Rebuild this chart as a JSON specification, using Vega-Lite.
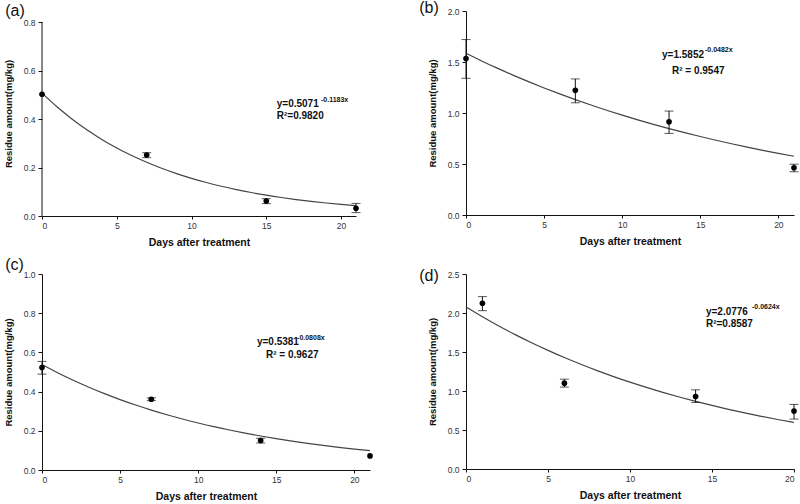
{
  "$schema": "https://vega.github.io/schema/vega-lite/v6.json",
  "background": "white",
  "padding": {"left": 3, "top": 0, "right": 0, "bottom": 0},
  "datasets": {
    "one": [{}],
    "fa": [{"day":0,"fit":0.5071},{"day":1,"fit":0.4505},{"day":2,"fit":0.4003},{"day":3,"fit":0.3556},{"day":4,"fit":0.3159},{"day":5,"fit":0.2807},{"day":6,"fit":0.2494},{"day":7,"fit":0.2215},{"day":8,"fit":0.1968},{"day":9,"fit":0.1749},{"day":10,"fit":0.1554},{"day":11,"fit":0.138},{"day":12,"fit":0.1226},{"day":13,"fit":0.109},{"day":14,"fit":0.0968},{"day":15,"fit":0.086},{"day":16,"fit":0.0764},{"day":17,"fit":0.0679},{"day":18,"fit":0.0603},{"day":19,"fit":0.0536},{"day":20,"fit":0.0476},{"day":21,"fit":0.0423}],
    "fb": [{"day":0,"fit":1.5852},{"day":1,"fit":1.5106},{"day":2,"fit":1.4395},{"day":3,"fit":1.3718},{"day":4,"fit":1.3072},{"day":5,"fit":1.2457},{"day":6,"fit":1.1871},{"day":7,"fit":1.1312},{"day":8,"fit":1.078},{"day":9,"fit":1.0273},{"day":10,"fit":0.9789},{"day":11,"fit":0.9329},{"day":12,"fit":0.889},{"day":13,"fit":0.8471},{"day":14,"fit":0.8073},{"day":15,"fit":0.7693},{"day":16,"fit":0.7331},{"day":17,"fit":0.6986},{"day":18,"fit":0.6657},{"day":19,"fit":0.6344},{"day":20,"fit":0.6045},{"day":21,"fit":0.5761}],
    "fc": [{"day":0,"fit":0.5381},{"day":1,"fit":0.4963},{"day":2,"fit":0.4578},{"day":3,"fit":0.4223},{"day":4,"fit":0.3895},{"day":5,"fit":0.3593},{"day":6,"fit":0.3314},{"day":7,"fit":0.3057},{"day":8,"fit":0.2819},{"day":9,"fit":0.26},{"day":10,"fit":0.2399},{"day":11,"fit":0.2212},{"day":12,"fit":0.2041},{"day":13,"fit":0.1882},{"day":14,"fit":0.1736},{"day":15,"fit":0.1601},{"day":16,"fit":0.1477},{"day":17,"fit":0.1362},{"day":18,"fit":0.1257},{"day":19,"fit":0.1159},{"day":20,"fit":0.1069},{"day":21,"fit":0.0986}],
    "fd": [{"day":0,"fit":2.0776},{"day":1,"fit":1.9519},{"day":2,"fit":1.8339},{"day":3,"fit":1.7229},{"day":4,"fit":1.6187},{"day":5,"fit":1.5208},{"day":6,"fit":1.4288},{"day":7,"fit":1.3424},{"day":8,"fit":1.2611},{"day":9,"fit":1.1849},{"day":10,"fit":1.1132},{"day":11,"fit":1.0458},{"day":12,"fit":0.9826},{"day":13,"fit":0.9231},{"day":14,"fit":0.8673},{"day":15,"fit":0.8148},{"day":16,"fit":0.7655},{"day":17,"fit":0.7192},{"day":18,"fit":0.6757},{"day":19,"fit":0.6348},{"day":20,"fit":0.5964}],
    "pa": [{"day":0,"mean":0.502,"lo":null,"hi":null},{"day":7,"mean":0.2515,"lo":0.2405,"hi":0.261},{"day":15,"mean":0.062,"lo":0.051,"hi":0.0715},{"day":21,"mean":0.032,"lo":0.014,"hi":0.052}],
    "pb": [{"day":0,"mean":1.534,"lo":1.34,"hi":1.72},{"day":7,"mean":1.222,"lo":1.1,"hi":1.334},{"day":13,"mean":0.913,"lo":0.8,"hi":1.019},{"day":21,"mean":0.463,"lo":0.424,"hi":0.498}],
    "pc": [{"day":0,"mean":0.523,"lo":0.489,"hi":0.554},{"day":7,"mean":0.361,"lo":0.354,"hi":0.368},{"day":14,"mean":0.15,"lo":0.138,"hi":0.162},{"day":21,"mean":0.072,"lo":null,"hi":null}],
    "pd": [{"day":1,"mean":2.125,"lo":2.03,"hi":2.21},{"day":6,"mean":1.1,"lo":1.05,"hi":1.152},{"day":14,"mean":0.93,"lo":0.853,"hi":1.015},{"day":20,"mean":0.742,"lo":0.64,"hi":0.828}]
  },
  "config": {
    "view": {"stroke": null},
    "font": "Liberation Sans",
    "axis": {
      "grid": false,
      "domainColor": "#111",
      "tickColor": "#111",
      "labelColor": "#333",
      "labelFont": "Liberation Sans",
      "labelFontSize": 8.5,
      "labelPadding": 3,
      "tickSize": 4,
      "titleFont": "Liberation Sans",
      "titleColor": "#111",
      "titleFontWeight": "bold"
    },
    "axisX": {"titleFontSize": 10.5, "titlePadding": 8, "tickSize": 3, "labelPadding": 2},
    "axisY": {"titleFontSize": 9.5, "titlePadding": 10, "format": ".1f"},
    "text": {"align": "left", "baseline": "middle", "fontWeight": "bold", "fill": "#111", "color": "#111"},
    "title": {"font": "Liberation Sans", "fontSize": 16, "fontWeight": "normal", "color": "#111", "anchor": "start", "frame": "bounds"}
  },
  "vconcat": [
    {
      "hconcat": [
        {
          "width": 314, "height": 205,
          "title": {"text": "(a)", "offset": -8, "dx": 2},
          "layer": [
            {"data": {"name": "fa"}, "mark": {"type": "line", "color": "#444", "strokeWidth": 1.2, "interpolate": "monotone"},
             "encoding": {
               "x": {"field": "day", "type": "quantitative", "scale": {"domain": [0, 21], "nice": false}, "title": "Days after treatment", "axis": {"values": [0,5,10,15,20]}},
               "y": {"field": "fit", "type": "quantitative", "scale": {"domain": [0, 0.8454], "nice": false}, "title": "Residue amount(mg/kg)", "axis": {"values": [0,0.2,0.4,0.6,0.8], "domain": false}}
             }},
            {"data": {"name": "one"}, "mark": {"type": "rule", "color": "#111", "strokeWidth": 1},
             "encoding": {"x": {"datum": 0, "type": "quantitative", "title": "Days after treatment", "axis": {"values": [0,5,10,15,20]}}, "y": {"datum": 0, "type": "quantitative", "title": "Residue amount(mg/kg)", "axis": {"values": [0,0.2,0.4,0.6,0.8], "domain": false}}, "y2": {"datum": 0.8}}},
            {"data": {"name": "pa"}, "transform": [{"filter": "datum.lo != null"}], "mark": {"type": "errorbar", "color": "#111", "thickness": 1, "ticks": {"size": 9, "color": "#111"}},
             "encoding": {"x": {"field": "day", "type": "quantitative", "title": "Days after treatment", "axis": {"values": [0,5,10,15,20]}}, "y": {"field": "lo", "type": "quantitative", "title": "Residue amount(mg/kg)", "axis": {"values": [0,0.2,0.4,0.6,0.8], "domain": false}}, "y2": {"field": "hi"}}},
            {"data": {"name": "pa"}, "mark": {"type": "circle", "color": "#000", "opacity": 1, "size": 32},
             "encoding": {"x": {"field": "day", "type": "quantitative", "title": "Days after treatment", "axis": {"values": [0,5,10,15,20]}}, "y": {"field": "mean", "type": "quantitative", "title": "Residue amount(mg/kg)", "axis": {"values": [0,0.2,0.4,0.6,0.8], "domain": false}}}},
            {"data": {"name": "one"}, "mark": {"type": "text", "text": "y=0.5071", "fontSize": 10, "fill": "#111"},
             "encoding": {"x": {"datum": 15.7, "type": "quantitative", "title": "Days after treatment", "axis": {"values": [0,5,10,15,20]}}, "y": {"datum": 0.462, "type": "quantitative", "title": "Residue amount(mg/kg)", "axis": {"values": [0,0.2,0.4,0.6,0.8], "domain": false}}}},
            {"data": {"name": "one"}, "mark": {"type": "text", "text": "-0.1183x", "fontSize": 7, "fill": "#111"},
             "encoding": {"x": {"datum": 18.66, "type": "quantitative", "title": "Days after treatment", "axis": {"values": [0,5,10,15,20]}}, "y": {"datum": 0.478, "type": "quantitative", "title": "Residue amount(mg/kg)", "axis": {"values": [0,0.2,0.4,0.6,0.8], "domain": false}}}},
            {"data": {"name": "one"}, "mark": {"type": "text", "text": "R²=0.9820", "fontSize": 10, "fill": "#111"},
             "encoding": {"x": {"datum": 15.7, "type": "quantitative", "title": "Days after treatment", "axis": {"values": [0,5,10,15,20]}}, "y": {"datum": 0.412, "type": "quantitative", "title": "Residue amount(mg/kg)", "axis": {"values": [0,0.2,0.4,0.6,0.8], "domain": false}}}}
          ]
        },
        {
          "width": 328, "height": 204,
          "title": {"text": "(b)", "offset": -9, "dx": -8},
          "layer": [
            {"data": {"name": "fb"}, "mark": {"type": "line", "color": "#444", "strokeWidth": 1.2, "interpolate": "monotone"},
             "encoding": {
               "x": {"field": "day", "type": "quantitative", "scale": {"domain": [0, 21], "nice": false}, "title": "Days after treatment", "axis": {"values": [0,5,10,15,20]}},
               "y": {"field": "fit", "type": "quantitative", "scale": {"domain": [0, 2], "nice": false}, "title": "Residue amount(mg/kg)", "axis": {"values": [0,0.5,1,1.5,2]}}
             }},
            {"data": {"name": "pb"}, "transform": [{"filter": "datum.lo != null"}], "mark": {"type": "errorbar", "color": "#111", "thickness": 1, "ticks": {"size": 9, "color": "#111"}},
             "encoding": {"x": {"field": "day", "type": "quantitative", "title": "Days after treatment", "axis": {"values": [0,5,10,15,20]}}, "y": {"field": "lo", "type": "quantitative", "title": "Residue amount(mg/kg)", "axis": {"values": [0,0.5,1,1.5,2]}}, "y2": {"field": "hi"}}},
            {"data": {"name": "pb"}, "mark": {"type": "circle", "color": "#000", "opacity": 1, "size": 32},
             "encoding": {"x": {"field": "day", "type": "quantitative", "title": "Days after treatment", "axis": {"values": [0,5,10,15,20]}}, "y": {"field": "mean", "type": "quantitative", "title": "Residue amount(mg/kg)", "axis": {"values": [0,0.5,1,1.5,2]}}}},
            {"data": {"name": "one"}, "mark": {"type": "text", "text": "y=1.5852", "fontSize": 10, "fill": "#111"},
             "encoding": {"x": {"datum": 12.55, "type": "quantitative", "title": "Days after treatment", "axis": {"values": [0,5,10,15,20]}}, "y": {"datum": 1.566, "type": "quantitative", "title": "Residue amount(mg/kg)", "axis": {"values": [0,0.5,1,1.5,2]}}}},
            {"data": {"name": "one"}, "mark": {"type": "text", "text": "-0.0482x", "fontSize": 7, "fill": "#111"},
             "encoding": {"x": {"datum": 15.3, "type": "quantitative", "title": "Days after treatment", "axis": {"values": [0,5,10,15,20]}}, "y": {"datum": 1.616, "type": "quantitative", "title": "Residue amount(mg/kg)", "axis": {"values": [0,0.5,1,1.5,2]}}}},
            {"data": {"name": "one"}, "mark": {"type": "text", "text": "R² = 0.9547", "fontSize": 10, "fill": "#111"},
             "encoding": {"x": {"datum": 13.19, "type": "quantitative", "title": "Days after treatment", "axis": {"values": [0,5,10,15,20]}}, "y": {"datum": 1.409, "type": "quantitative", "title": "Residue amount(mg/kg)", "axis": {"values": [0,0.5,1,1.5,2]}}}}
          ]
        }
      ],
      "spacing": 58
    },
    {
      "hconcat": [
        {
          "width": 328, "height": 196,
          "title": {"text": "(c)", "offset": -2.5, "dx": 2},
          "layer": [
            {"data": {"name": "fc"}, "mark": {"type": "line", "color": "#444", "strokeWidth": 1.2, "interpolate": "monotone"},
             "encoding": {
               "x": {"field": "day", "type": "quantitative", "scale": {"domain": [0, 21], "nice": false}, "title": "Days after treatment", "axis": {"values": [0,5,10,15,20]}},
               "y": {"field": "fit", "type": "quantitative", "scale": {"domain": [0, 1], "nice": false}, "title": "Residue amount(mg/kg)", "axis": {"values": [0,0.2,0.4,0.6,0.8,1]}}
             }},
            {"data": {"name": "pc"}, "transform": [{"filter": "datum.lo != null"}], "mark": {"type": "errorbar", "color": "#111", "thickness": 1, "ticks": {"size": 9, "color": "#111"}},
             "encoding": {"x": {"field": "day", "type": "quantitative", "title": "Days after treatment", "axis": {"values": [0,5,10,15,20]}}, "y": {"field": "lo", "type": "quantitative", "title": "Residue amount(mg/kg)", "axis": {"values": [0,0.2,0.4,0.6,0.8,1]}}, "y2": {"field": "hi"}}},
            {"data": {"name": "pc"}, "mark": {"type": "circle", "color": "#000", "opacity": 1, "size": 32},
             "encoding": {"x": {"field": "day", "type": "quantitative", "title": "Days after treatment", "axis": {"values": [0,5,10,15,20]}}, "y": {"field": "mean", "type": "quantitative", "title": "Residue amount(mg/kg)", "axis": {"values": [0,0.2,0.4,0.6,0.8,1]}}}},
            {"data": {"name": "one"}, "mark": {"type": "text", "text": "y=0.5381", "fontSize": 10, "fill": "#111"},
             "encoding": {"x": {"datum": 13.76, "type": "quantitative", "title": "Days after treatment", "axis": {"values": [0,5,10,15,20]}}, "y": {"datum": 0.652, "type": "quantitative", "title": "Residue amount(mg/kg)", "axis": {"values": [0,0.2,0.4,0.6,0.8,1]}}}},
            {"data": {"name": "one"}, "mark": {"type": "text", "text": "-0.0808x", "fontSize": 7, "fill": "#111"},
             "encoding": {"x": {"datum": 16.33, "type": "quantitative", "title": "Days after treatment", "axis": {"values": [0,5,10,15,20]}}, "y": {"datum": 0.675, "type": "quantitative", "title": "Residue amount(mg/kg)", "axis": {"values": [0,0.2,0.4,0.6,0.8,1]}}}},
            {"data": {"name": "one"}, "mark": {"type": "text", "text": "R² = 0.9627", "fontSize": 10, "fill": "#111"},
             "encoding": {"x": {"datum": 14.34, "type": "quantitative", "title": "Days after treatment", "axis": {"values": [0,5,10,15,20]}}, "y": {"datum": 0.587, "type": "quantitative", "title": "Residue amount(mg/kg)", "axis": {"values": [0,0.2,0.4,0.6,0.8,1]}}}}
          ]
        },
        {
          "width": 328, "height": 195,
          "title": {"text": "(d)", "offset": -14, "dx": -8},
          "layer": [
            {"data": {"name": "fd"}, "mark": {"type": "line", "color": "#444", "strokeWidth": 1.2, "interpolate": "monotone"},
             "encoding": {
               "x": {"field": "day", "type": "quantitative", "scale": {"domain": [0, 20], "nice": false}, "title": "Days after treatment", "axis": {"values": [0,5,10,15,20]}},
               "y": {"field": "fit", "type": "quantitative", "scale": {"domain": [0, 2.5], "nice": false}, "title": "Residue amount(mg/kg)", "axis": {"values": [0,0.5,1,1.5,2,2.5]}}
             }},
            {"data": {"name": "pd"}, "transform": [{"filter": "datum.lo != null"}], "mark": {"type": "errorbar", "color": "#111", "thickness": 1, "ticks": {"size": 9, "color": "#111"}},
             "encoding": {"x": {"field": "day", "type": "quantitative", "title": "Days after treatment", "axis": {"values": [0,5,10,15,20]}}, "y": {"field": "lo", "type": "quantitative", "title": "Residue amount(mg/kg)", "axis": {"values": [0,0.5,1,1.5,2,2.5]}}, "y2": {"field": "hi"}}},
            {"data": {"name": "pd"}, "mark": {"type": "circle", "color": "#000", "opacity": 1, "size": 32},
             "encoding": {"x": {"field": "day", "type": "quantitative", "title": "Days after treatment", "axis": {"values": [0,5,10,15,20]}}, "y": {"field": "mean", "type": "quantitative", "title": "Residue amount(mg/kg)", "axis": {"values": [0,0.5,1,1.5,2,2.5]}}}},
            {"data": {"name": "one"}, "mark": {"type": "text", "text": "y=2.0776", "fontSize": 10, "fill": "#111"},
             "encoding": {"x": {"datum": 14.63, "type": "quantitative", "title": "Days after treatment", "axis": {"values": [0,5,10,15,20]}}, "y": {"datum": 2.013, "type": "quantitative", "title": "Residue amount(mg/kg)", "axis": {"values": [0,0.5,1,1.5,2,2.5]}}}},
            {"data": {"name": "one"}, "mark": {"type": "text", "text": "-0.0624x", "fontSize": 7, "fill": "#111"},
             "encoding": {"x": {"datum": 17.44, "type": "quantitative", "title": "Days after treatment", "axis": {"values": [0,5,10,15,20]}}, "y": {"datum": 2.077, "type": "quantitative", "title": "Residue amount(mg/kg)", "axis": {"values": [0,0.5,1,1.5,2,2.5]}}}},
            {"data": {"name": "one"}, "mark": {"type": "text", "text": "R²=0.8587", "fontSize": 10, "fill": "#111"},
             "encoding": {"x": {"datum": 14.63, "type": "quantitative", "title": "Days after treatment", "axis": {"values": [0,5,10,15,20]}}, "y": {"datum": 1.859, "type": "quantitative", "title": "Residue amount(mg/kg)", "axis": {"values": [0,0.5,1,1.5,2,2.5]}}}}
          ]
        }
      ],
      "spacing": 46
    }
  ],
  "spacing": 8
}
